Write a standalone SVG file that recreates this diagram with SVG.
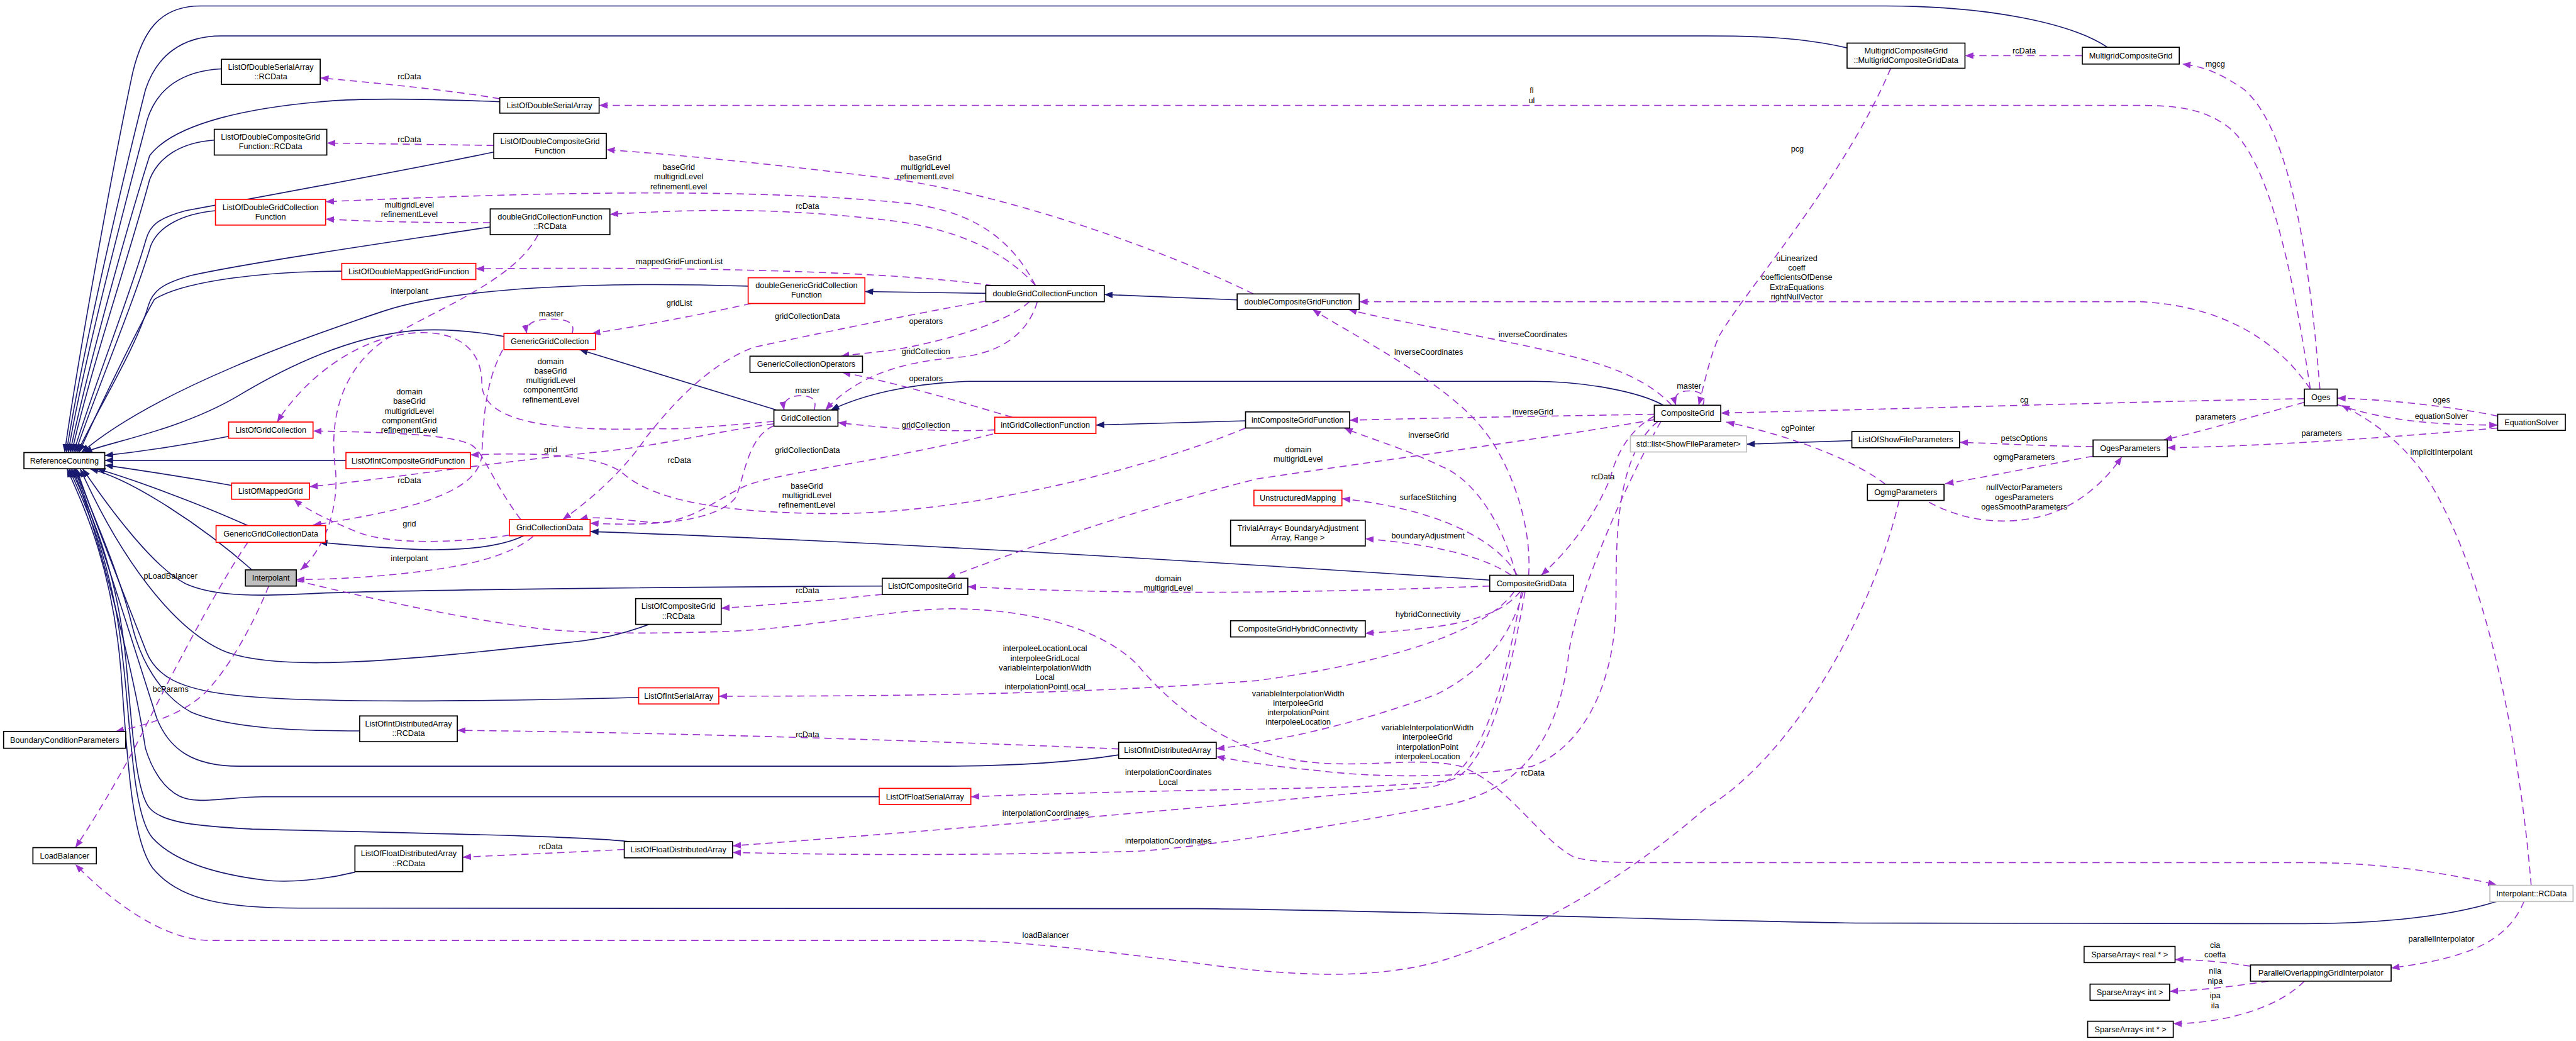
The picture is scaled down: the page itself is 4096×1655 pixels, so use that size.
<svg xmlns="http://www.w3.org/2000/svg" width="4096" height="1655" viewBox="0 0 4096 1655">
<defs>
<style>
.nd rect{fill:#fff;stroke:#000;stroke-width:1.8}
.nd.r rect{stroke:#ff0000}
.nd.g rect{stroke:#bfbfbf}
.nd.f rect{fill:#bfbfbf}
text{font-family:"Liberation Sans",Arial,sans-serif;font-size:13.35px;text-anchor:middle;fill:#000}
.e{fill:none;stroke:#191970;stroke-width:1.7;marker-end:url(#ab)}
.u{fill:none;stroke:#9a32cd;stroke-width:1.7;stroke-dasharray:12,8;marker-end:url(#ap)}
</style>
<marker id="ab" markerWidth="14" markerHeight="11" refX="14" refY="5.5" orient="auto" markerUnits="userSpaceOnUse"><path d="M0,0 L14,5.5 L0,11 z" fill="#191970"/></marker>
<marker id="ap" markerWidth="14" markerHeight="11" refX="14" refY="5.5" orient="auto" markerUnits="userSpaceOnUse"><path d="M0,0 L14,5.5 L0,11 z" fill="#9a32cd"/></marker>
</defs>
<rect width="4096" height="1655" fill="#fff"/>
<g transform="scale(0.9517)">
<g id="connectors">
<path class="e" d="M3521,79 C3460,38 3320,10 3150,10 L335,10 C265,10 238,55 222,120 C190,270 130,600 108,756"/>
<path class="e" d="M3086,80 C3010,62 2930,60 2850,60 L370,60 C305,60 262,92 243,150 C205,300 135,600 111,756"/>
<path class="e" d="M370,115 C305,118 262,148 246,200 C212,330 140,600 114,756"/>
<path class="e" d="M835,170 C740,166 640,163 560,168 C420,178 292,205 250,260 C212,380 145,620 117,756"/>
<path class="e" d="M358,234 C302,238 265,262 250,300 C218,420 150,620 120,756"/>
<path class="e" d="M825,254 C700,280 430,330 310,352 C262,365 250,378 244,400 C215,500 155,650 123,756"/>
<path class="e" d="M360,352 C305,357 265,378 252,410 C222,510 158,660 126,756"/>
<path class="e" d="M819,379 C650,405 420,438 320,460 C268,474 255,488 248,510 C228,580 165,680 129,756"/>
<path class="e" d="M571,453 C450,453 310,468 258,500 C235,540 175,660 132,756"/>
<path class="e" d="M1250,478 C1000,470 760,480 640,520 C520,560 260,650 136,756"/>
<path class="e" d="M842,562 C790,553 740,549 694,552 C600,560 500,600 400,660 C300,720 175,740 140,756"/>
<path class="e" d="M382,729 C300,745 230,755 175,761"/>
<path class="e" d="M578,769 L175,769"/>
<path class="e" d="M387,811 C300,795 230,785 175,777"/>
<path class="e" d="M414,878 C330,840 220,800 162,783"/>
<path class="e" d="M421,952 C340,880 220,800 150,783"/>
<path class="e" d="M1474,979 C1200,980 700,985 533,991 C440,996 360,998 310,975 C260,950 190,860 138,783"/>
<path class="e" d="M1084,1043 C1040,1060 1000,1068 960,1072 C700,1100 480,1125 380,1090 C290,1055 200,930 134,783"/>
<path class="e" d="M1067,1165 C800,1172 500,1175 380,1160 C300,1150 262,1130 245,1090 C210,1000 150,850 128,783"/>
<path class="e" d="M601,1221 C480,1221 380,1215 320,1190 C265,1160 235,1100 222,1050 C198,950 150,850 126,783"/>
<path class="e" d="M1869,1261 C1800,1272 1700,1280 1561,1280 L400,1280 C320,1280 282,1250 262,1200 C230,1100 152,850 124,783"/>
<path class="e" d="M1469,1331 L440,1331 C380,1331 330,1345 300,1330 C270,1315 252,1280 243,1250 C220,1100 152,850 121,783"/>
<path class="e" d="M1052,1406 C980,1397 700,1392 421,1385 C330,1380 272,1375 250,1350 C225,1320 220,1200 210,1100 C195,950 150,850 118,783"/>
<path class="e" d="M593,1457 C540,1470 480,1475 440,1470 C360,1460 292,1440 255,1400 C220,1360 218,1200 205,1100 C190,950 147,850 115,783"/>
<path class="e" d="M4171,1506 C4080,1535 3950,1543 3850,1543 L3100,1542 C2700,1535 2300,1520 2000,1518 L500,1517 C380,1517 300,1505 255,1450 C218,1400 212,1250 202,1120 C188,950 142,850 112,783"/>
<path class="e" d="M1298,685 L968,584"/>
<path class="e" d="M2779,677 C2740,655 2650,637 2560,637 L1620,637 C1520,640 1440,660 1388,685"/>
<path class="e" d="M2489,969 C2200,950 1500,905 986,888"/>
<path class="e" d="M875,895 C840,912 780,920 700,918 C630,915 580,910 533,906"/>
<path class="e" d="M1647,490 L1445,487"/>
<path class="e" d="M2067,501 L1845,492"/>
<path class="e" d="M2081,703 L1831,710"/>
<path class="e" d="M3094,736 L2918,742"/>
<path class="u" d="M835,165 C750,150 620,138 535,130"/>
<path class="u" d="M3860,650 C3830,450 3790,260 3720,210 C3680,182 3640,176 3570,176 L1001,176"/>
<path class="u" d="M825,243 C700,241 620,240 546,239"/>
<path class="u" d="M2094,491 C1950,420 1700,330 1500,300 C1300,275 1150,260 1013,250"/>
<path class="u" d="M1730,477 C1690,400 1630,355 1520,340 C1300,318 1000,316 544,337"/>
<path class="u" d="M819,372 C700,372 620,370 544,366"/>
<path class="u" d="M1730,477 C1680,420 1600,385 1500,370 C1300,345 1150,350 1019,358"/>
<path class="u" d="M1659,477 C1500,455 1200,445 795,449"/>
<path class="u" d="M899,392 C860,470 720,520 640,570 C570,620 550,700 560,780 C568,850 540,920 502,952"/>
<path class="u" d="M1255,507 C1150,530 1050,548 989,557"/>
<path class="u" d="M956,557 C962,537 945,533 920,533 C895,533 877,540 880,557"/>
<path class="u" d="M1647,503 C1550,520 1400,550 1260,580 C1180,610 1120,680 1080,730 C1040,790 980,840 940,868"/>
<path class="u" d="M1720,504 C1680,540 1580,570 1490,585 C1450,590 1425,592 1405,595"/>
<path class="u" d="M1733,504 C1720,550 1680,590 1600,597 C1500,605 1430,630 1379,685"/>
<path class="u" d="M1691,697 C1600,670 1500,640 1407,622"/>
<path class="u" d="M1360,685 C1367,665 1352,661 1338,661 C1322,661 1307,668 1310,685"/>
<path class="u" d="M1662,718 C1600,722 1500,718 1400,706"/>
<path class="u" d="M1659,725 C1480,770 1300,790 1250,810 C1200,830 1150,880 1080,872 C1020,866 990,862 968,868"/>
<path class="u" d="M1293,711 C1250,730 1245,790 1230,830 C1200,870 1100,880 986,874"/>
<path class="u" d="M2081,715 C1900,790 1600,860 1380,858 C1200,856 1090,835 1040,790 C1000,760 900,755 786,760"/>
<path class="u" d="M1293,704 C1200,712 1130,718 1100,716 C900,722 805,700 805,640 C805,580 760,552 694,556 C600,562 510,630 463,705"/>
<path class="u" d="M870,868 C820,800 810,760 790,745 C760,725 640,722 523,720"/>
<path class="u" d="M840,584 C810,640 808,700 805,760 C800,820 700,850 523,877"/>
<path class="u" d="M851,894 C780,905 660,912 600,890 C550,870 510,850 491,834"/>
<path class="u" d="M1293,708 C1200,720 1100,745 1000,755 C800,775 650,800 517,813"/>
<path class="u" d="M891,896 C850,930 780,945 700,955 C620,965 550,968 495,968"/>
<path class="u" d="M414,906 C370,970 300,1100 240,1220 C200,1300 150,1380 126,1416"/>
<path class="u" d="M449,979 C420,1050 380,1120 340,1160 C300,1195 250,1210 193,1222"/>
<path class="u" d="M495,970 C600,995 750,1030 900,1050 C1000,1060 1100,1058 1210,1055 C1350,1050 1500,1015 1600,1017 C1750,1020 1850,1060 1900,1110 C1950,1170 2050,1265 2210,1275 C2300,1280 2380,1265 2440,1280 C2520,1310 2570,1400 2630,1432 C2660,1440 2700,1441 2750,1441 L3850,1441 C3950,1441 4050,1450 4171,1478"/>
<path class="u" d="M2489,979 C2200,990 1900,995 1617,980"/>
<path class="u" d="M2764,701 C2600,730 2300,770 2100,800 C1900,850 1700,920 1582,966"/>
<path class="u" d="M1474,993 C1400,1000 1300,1010 1205,1016"/>
<path class="u" d="M2793,677 C2740,620 2650,600 2560,580 C2420,550 2320,535 2253,517"/>
<path class="u" d="M2554,961 C2560,870 2520,770 2480,720 C2420,640 2260,560 2193,517"/>
<path class="u" d="M2764,692 C2600,695 2400,698 2255,702"/>
<path class="u" d="M2533,961 C2510,870 2460,800 2410,780 C2350,750 2280,730 2246,715"/>
<path class="u" d="M2845,677 C2852,658 2838,653 2822,653 C2805,653 2795,660 2800,677"/>
<path class="u" d="M3159,114 C3080,300 2920,480 2873,560 C2855,600 2848,640 2838,677"/>
<path class="u" d="M3850,666 C3600,670 3300,680 2875,690"/>
<path class="u" d="M3150,809 C3100,770 3000,730 2884,705"/>
<path class="u" d="M2764,695 C2720,720 2700,760 2690,800 C2660,870 2620,920 2575,961"/>
<path class="u" d="M2535,961 C2500,900 2400,850 2242,833"/>
<path class="u" d="M2525,961 C2480,930 2400,910 2281,900"/>
<path class="u" d="M2540,988 C2500,1040 2400,1050 2281,1058"/>
<path class="u" d="M2530,988 C2480,1060 2300,1110 2100,1137 C1800,1160 1500,1163 1201,1163"/>
<path class="u" d="M2545,988 C2520,1080 2460,1130 2400,1160 C2250,1215 2120,1240 2032,1251"/>
<path class="u" d="M2770,704 C2700,760 2700,900 2700,1000 C2700,1150 2640,1250 2560,1280 C2450,1300 2300,1300 2200,1287 C2120,1280 2080,1272 2032,1264"/>
<path class="u" d="M2548,988 C2520,1150 2480,1290 2421,1304 C2300,1320 2000,1316 1622,1331"/>
<path class="u" d="M2542,988 C2515,1150 2470,1300 2393,1314 C2200,1330 1800,1370 1224,1413"/>
<path class="u" d="M2775,704 C2720,800 2630,1000 2620,1100 C2600,1250 2530,1320 2421,1344 C2200,1385 2000,1416 1900,1422 C1600,1430 1400,1428 1224,1424"/>
<path class="u" d="M1869,1251 C1600,1240 1200,1225 764,1220"/>
<path class="u" d="M1043,1419 C950,1424 850,1428 773,1432"/>
<path class="u" d="M3173,836 C3130,1020 3000,1260 2850,1350 C2700,1480 2550,1560 2421,1601 C2300,1640 2150,1630 2000,1609 C1850,1590 1700,1571 1596,1571 L351,1571 C270,1571 180,1500 126,1444"/>
<path class="u" d="M3860,650 C3800,560 3700,510 3576,504 L2271,504"/>
<path class="u" d="M3876,650 C3860,450 3830,220 3750,150 C3700,115 3670,110 3646,107"/>
<path class="u" d="M3479,93 L3283,93"/>
<path class="u" d="M3850,672 C3750,700 3680,720 3615,735"/>
<path class="u" d="M4173,695 C4100,680 4000,668 3905,665"/>
<path class="u" d="M3905,676 C3980,700 4050,710 4173,710"/>
<path class="u" d="M4173,715 C4000,730 3800,745 3621,748"/>
<path class="u" d="M3497,746 C3400,745 3350,741 3274,739"/>
<path class="u" d="M3497,762 C3400,780 3300,800 3250,808"/>
<path class="u" d="M3223,839 C3280,870 3350,880 3420,860 C3480,840 3520,800 3545,763"/>
<path class="u" d="M4229,1479 C4210,1250 4160,1000 4083,849 C4050,780 4000,720 3912,677"/>
<path class="u" d="M4217,1506 C4190,1570 4130,1600 3995,1617"/>
<path class="u" d="M3760,1614 C3720,1608 3680,1603 3634,1603"/>
<path class="u" d="M3790,1639 C3730,1648 3680,1654 3625,1656"/>
<path class="u" d="M3850,1639 C3800,1690 3700,1710 3631,1710"/>
</g>
<g id="edge-labels">
<text x="684" y="132">rcData</text>
<text x="2559" y="156">fl<tspan x="2559" dy="16">ul</tspan></text>
<text x="684" y="237">rcData</text>
<text x="3003" y="253">pcg</text>
<text x="1134" y="284">baseGrid<tspan x="1134" dy="16">multigridLevel</tspan><tspan x="1134" dy="16">refinementLevel</tspan></text>
<text x="1546" y="268">baseGrid<tspan x="1546" dy="16">multigridLevel</tspan><tspan x="1546" dy="16">refinementLevel</tspan></text>
<text x="684" y="347">multigridLevel<tspan x="684" dy="16">refinementLevel</tspan></text>
<text x="1349" y="349">rcData</text>
<text x="3002" y="436">uLinearized<tspan x="3002" dy="16">coeff</tspan><tspan x="3002" dy="16">coefficientsOfDense</tspan><tspan x="3002" dy="16">ExtraEquations</tspan><tspan x="3002" dy="16">rightNullVector</tspan></text>
<text x="1135" y="441">mappedGridFunctionList</text>
<text x="684" y="491">interpolant</text>
<text x="1135" y="511">gridList</text>
<text x="921" y="529">master</text>
<text x="1349" y="533">gridCollectionData</text>
<text x="1547" y="541">operators</text>
<text x="2561" y="563">inverseCoordinates</text>
<text x="1547" y="592">gridCollection</text>
<text x="2387" y="593">inverseCoordinates</text>
<text x="920" y="608">domain<tspan x="920" dy="16">baseGrid</tspan><tspan x="920" dy="16">multigridLevel</tspan><tspan x="920" dy="16">componentGrid</tspan><tspan x="920" dy="16">refinementLevel</tspan></text>
<text x="1547" y="637">operators</text>
<text x="2822" y="649">master</text>
<text x="1349" y="657">master</text>
<text x="684" y="659">domain<tspan x="684" dy="16">baseGrid</tspan><tspan x="684" dy="16">multigridLevel</tspan><tspan x="684" dy="16">componentGrid</tspan><tspan x="684" dy="16">refinementLevel</tspan></text>
<text x="3382" y="672">cg</text>
<text x="4079" y="673">oges</text>
<text x="2561" y="692">inverseGrid</text>
<text x="4079" y="700">equationSolver</text>
<text x="3702" y="701">parameters</text>
<text x="1547" y="715">gridCollection</text>
<text x="3004" y="720">cgPointer</text>
<text x="3879" y="728">parameters</text>
<text x="2387" y="731">inverseGrid</text>
<text x="3382" y="737">petscOptions</text>
<text x="920" y="755">grid</text>
<text x="2169" y="755">domain<tspan x="2169" dy="16">multigridLevel</tspan></text>
<text x="1349" y="757">gridCollectionData</text>
<text x="4079" y="760">implicitInterpolant</text>
<text x="3382" y="768">ogmgParameters</text>
<text x="1135" y="773">rcData</text>
<text x="2678" y="801">rcData</text>
<text x="684" y="807">rcData</text>
<text x="1348" y="816">baseGrid<tspan x="1348" dy="16">multigridLevel</tspan><tspan x="1348" dy="16">refinementLevel</tspan></text>
<text x="3382" y="819">nullVectorParameters<tspan x="3382" dy="16">ogesParameters</tspan><tspan x="3382" dy="16">ogesSmoothParameters</tspan></text>
<text x="2386" y="835">surfaceStitching</text>
<text x="684" y="880">grid</text>
<text x="2386" y="899">boundaryAdjustment</text>
<text x="684" y="937">interpolant</text>
<text x="285" y="967">pLoadBalancer</text>
<text x="1952" y="971">domain<tspan x="1952" dy="16">multigridLevel</tspan></text>
<text x="1349" y="991">rcData</text>
<text x="2386" y="1031">hybridConnectivity</text>
<text x="1746" y="1088">interpoleeLocationLocal<tspan x="1746" dy="16">interpoleeGridLocal</tspan><tspan x="1746" dy="16">variableInterpolationWidth</tspan><tspan x="1746" dy="16">Local</tspan><tspan x="1746" dy="16">interpolationPointLocal</tspan></text>
<text x="285" y="1156">bcParams</text>
<text x="2169" y="1163">variableInterpolationWidth<tspan x="2169" dy="16">interpoleeGrid</tspan><tspan x="2169" dy="16">interpolationPoint</tspan><tspan x="2169" dy="16">interpoleeLocation</tspan></text>
<text x="2385" y="1220">variableInterpolationWidth<tspan x="2385" dy="16">interpoleeGrid</tspan><tspan x="2385" dy="16">interpolationPoint</tspan><tspan x="2385" dy="16">interpoleeLocation</tspan></text>
<text x="1349" y="1232">rcData</text>
<text x="1952" y="1295">interpolationCoordinates<tspan x="1952" dy="16">Local</tspan></text>
<text x="2561" y="1296">rcData</text>
<text x="1747" y="1363">interpolationCoordinates</text>
<text x="1952" y="1409">interpolationCoordinates</text>
<text x="920" y="1419">rcData</text>
<text x="1747" y="1567">loadBalancer</text>
<text x="4079" y="1573">parallelInterpolator</text>
<text x="3701" y="1583">cia<tspan x="3701" dy="16">coeffa</tspan></text>
<text x="3701" y="1627">nila<tspan x="3701" dy="16">nipa</tspan></text>
<text x="3701" y="1668">ipa<tspan x="3701" dy="16">ila</tspan></text>
<text x="3382" y="89">rcData</text>
<text x="3701" y="111">mgcg</text>
</g>
<g id="n-ReferenceCounting" class="nd"><rect x="40" y="756" width="135" height="27"/><text x="107.5" y="774">ReferenceCounting</text></g>
<g id="n-LODSA-RCData" class="nd"><rect x="370" y="99" width="165" height="42"/><text x="452.5" y="116.5">ListOfDoubleSerialArray</text><text x="452.5" y="132.5">::RCData</text></g>
<g id="n-LODSA" class="nd"><rect x="835" y="163" width="166" height="26"/><text x="918" y="180.5">ListOfDoubleSerialArray</text></g>
<g id="n-LODCGF-RCData" class="nd"><rect x="358" y="216" width="188" height="43"/><text x="452" y="233.5">ListOfDoubleCompositeGrid</text><text x="452" y="249.5">Function::RCData</text></g>
<g id="n-LODCGF" class="nd"><rect x="825" y="223" width="188" height="42"/><text x="919" y="240.5">ListOfDoubleCompositeGrid</text><text x="919" y="256.5">Function</text></g>
<g id="n-LODGCF" class="nd r"><rect x="360" y="333" width="184" height="43"/><text x="452" y="350.5">ListOfDoubleGridCollection</text><text x="452" y="366.5">Function</text></g>
<g id="n-dGCF-RCData" class="nd"><rect x="819" y="349" width="200" height="43"/><text x="919" y="366.5">doubleGridCollectionFunction</text><text x="919" y="382.5">::RCData</text></g>
<g id="n-LODMGF" class="nd r"><rect x="571" y="440" width="224" height="27"/><text x="683" y="458">ListOfDoubleMappedGridFunction</text></g>
<g id="n-dGGCF" class="nd r"><rect x="1250" y="464" width="195" height="43"/><text x="1347.5" y="481.5">doubleGenericGridCollection</text><text x="1347.5" y="497.5">Function</text></g>
<g id="n-dGCF" class="nd"><rect x="1647" y="477" width="198" height="27"/><text x="1746" y="495">doubleGridCollectionFunction</text></g>
<g id="n-dCGF" class="nd"><rect x="2067" y="491" width="204" height="26"/><text x="2169" y="508.5">doubleCompositeGridFunction</text></g>
<g id="n-GGC" class="nd r"><rect x="842" y="557" width="153" height="27"/><text x="918.5" y="575">GenericGridCollection</text></g>
<g id="n-GCO" class="nd"><rect x="1253" y="595" width="188" height="27"/><text x="1347" y="613">GenericCollectionOperators</text></g>
<g id="n-GC" class="nd"><rect x="1293" y="685" width="107" height="27"/><text x="1346.5" y="703">GridCollection</text></g>
<g id="n-intGCF" class="nd r"><rect x="1662" y="697" width="169" height="27"/><text x="1746.5" y="715">intGridCollectionFunction</text></g>
<g id="n-intCGF" class="nd"><rect x="2081" y="688" width="174" height="27"/><text x="2168" y="706">intCompositeGridFunction</text></g>
<g id="n-CG" class="nd"><rect x="2764" y="677" width="111" height="27"/><text x="2819.5" y="695">CompositeGrid</text></g>
<g id="n-stdlist" class="nd g"><rect x="2724" y="728" width="194" height="27"/><text x="2821" y="746">std::list&lt;ShowFileParameter&gt;</text></g>
<g id="n-LOGC" class="nd r"><rect x="382" y="705" width="141" height="27"/><text x="452.5" y="723">ListOfGridCollection</text></g>
<g id="n-LOICGF" class="nd r"><rect x="578" y="756" width="208" height="27"/><text x="682" y="774">ListOfIntCompositeGridFunction</text></g>
<g id="n-LOMG" class="nd r"><rect x="387" y="807" width="130" height="27"/><text x="452" y="825">ListOfMappedGrid</text></g>
<g id="n-GGCD" class="nd r"><rect x="361" y="878" width="183" height="28"/><text x="452.5" y="896.5">GenericGridCollectionData</text></g>
<g id="n-GCD" class="nd r"><rect x="851" y="868" width="135" height="27"/><text x="918.5" y="886">GridCollectionData</text></g>
<g id="n-Interpolant" class="nd f"><rect x="410" y="952" width="85" height="27"/><text x="452.5" y="970">Interpolant</text></g>
<g id="n-UM" class="nd r"><rect x="2095" y="819" width="147" height="26"/><text x="2168.5" y="836.5">UnstructuredMapping</text></g>
<g id="n-TA" class="nd"><rect x="2056" y="869" width="225" height="43"/><text x="2168.5" y="886.5">TrivialArray&lt; BoundaryAdjustment</text><text x="2168.5" y="902.5">Array, Range &gt;</text></g>
<g id="n-CGD" class="nd"><rect x="2489" y="961" width="140" height="27"/><text x="2559" y="979">CompositeGridData</text></g>
<g id="n-LOCG" class="nd"><rect x="1474" y="966" width="143" height="27"/><text x="1545.5" y="984">ListOfCompositeGrid</text></g>
<g id="n-LOCG-RCData" class="nd"><rect x="1062" y="1000" width="143" height="43"/><text x="1133.5" y="1017.5">ListOfCompositeGrid</text><text x="1133.5" y="1033.5">::RCData</text></g>
<g id="n-CGHC" class="nd"><rect x="2056" y="1037" width="225" height="27"/><text x="2168.5" y="1055">CompositeGridHybridConnectivity</text></g>
<g id="n-LOISA" class="nd r"><rect x="1067" y="1149" width="134" height="27"/><text x="1134" y="1167">ListOfIntSerialArray</text></g>
<g id="n-LOIDA-RCData" class="nd"><rect x="601" y="1196" width="163" height="43"/><text x="682.5" y="1213.5">ListOfIntDistributedArray</text><text x="682.5" y="1229.5">::RCData</text></g>
<g id="n-BCP" class="nd"><rect x="6" y="1222" width="204" height="28"/><text x="108" y="1240.5">BoundaryConditionParameters</text></g>
<g id="n-LOIDA" class="nd"><rect x="1869" y="1240" width="163" height="27"/><text x="1950.5" y="1258">ListOfIntDistributedArray</text></g>
<g id="n-LOFSA" class="nd r"><rect x="1469" y="1317" width="153" height="27"/><text x="1545.5" y="1335">ListOfFloatSerialArray</text></g>
<g id="n-LOFDA" class="nd"><rect x="1043" y="1406" width="181" height="27"/><text x="1133.5" y="1424">ListOfFloatDistributedArray</text></g>
<g id="n-LOFDA-RCData" class="nd"><rect x="593" y="1413" width="180" height="43"/><text x="683" y="1430.5">ListOfFloatDistributedArray</text><text x="683" y="1446.5">::RCData</text></g>
<g id="n-LoadBalancer" class="nd"><rect x="55" y="1416" width="106" height="27"/><text x="108" y="1434">LoadBalancer</text></g>
<g id="n-MGCGD" class="nd"><rect x="3086" y="72" width="197" height="42"/><text x="3184.5" y="89.5">MultigridCompositeGrid</text><text x="3184.5" y="105.5">::MultigridCompositeGridData</text></g>
<g id="n-MGCG" class="nd"><rect x="3479" y="79" width="162" height="28"/><text x="3560" y="97.5">MultigridCompositeGrid</text></g>
<g id="n-Oges" class="nd"><rect x="3850" y="650" width="55" height="28"/><text x="3877.5" y="668.5">Oges</text></g>
<g id="n-EquationSolver" class="nd"><rect x="4173" y="692" width="113" height="27"/><text x="4229.5" y="710">EquationSolver</text></g>
<g id="n-LOSFP" class="nd"><rect x="3094" y="721" width="180" height="27"/><text x="3184" y="739">ListOfShowFileParameters</text></g>
<g id="n-OgesParameters" class="nd"><rect x="3497" y="735" width="124" height="28"/><text x="3559" y="753.5">OgesParameters</text></g>
<g id="n-OgmgParameters" class="nd"><rect x="3120" y="809" width="128" height="27"/><text x="3184" y="827">OgmgParameters</text></g>
<g id="n-InterpolantRCData" class="nd g"><rect x="4160" y="1479" width="139" height="27"/><text x="4229.5" y="1497">Interpolant::RCData</text></g>
<g id="n-POGI" class="nd"><rect x="3760" y="1612" width="235" height="27"/><text x="3877.5" y="1630">ParallelOverlappingGridInterpolator</text></g>
<g id="n-SAreal" class="nd"><rect x="3482" y="1581" width="152" height="27"/><text x="3558" y="1599">SparseArray&lt; real * &gt;</text></g>
<g id="n-SAint" class="nd"><rect x="3492" y="1644" width="133" height="27"/><text x="3558.5" y="1662">SparseArray&lt; int &gt;</text></g>
<g id="n-SAintp" class="nd"><rect x="3488" y="1706" width="143" height="27"/><text x="3559.5" y="1724">SparseArray&lt; int * &gt;</text></g>
</g>
</svg>
